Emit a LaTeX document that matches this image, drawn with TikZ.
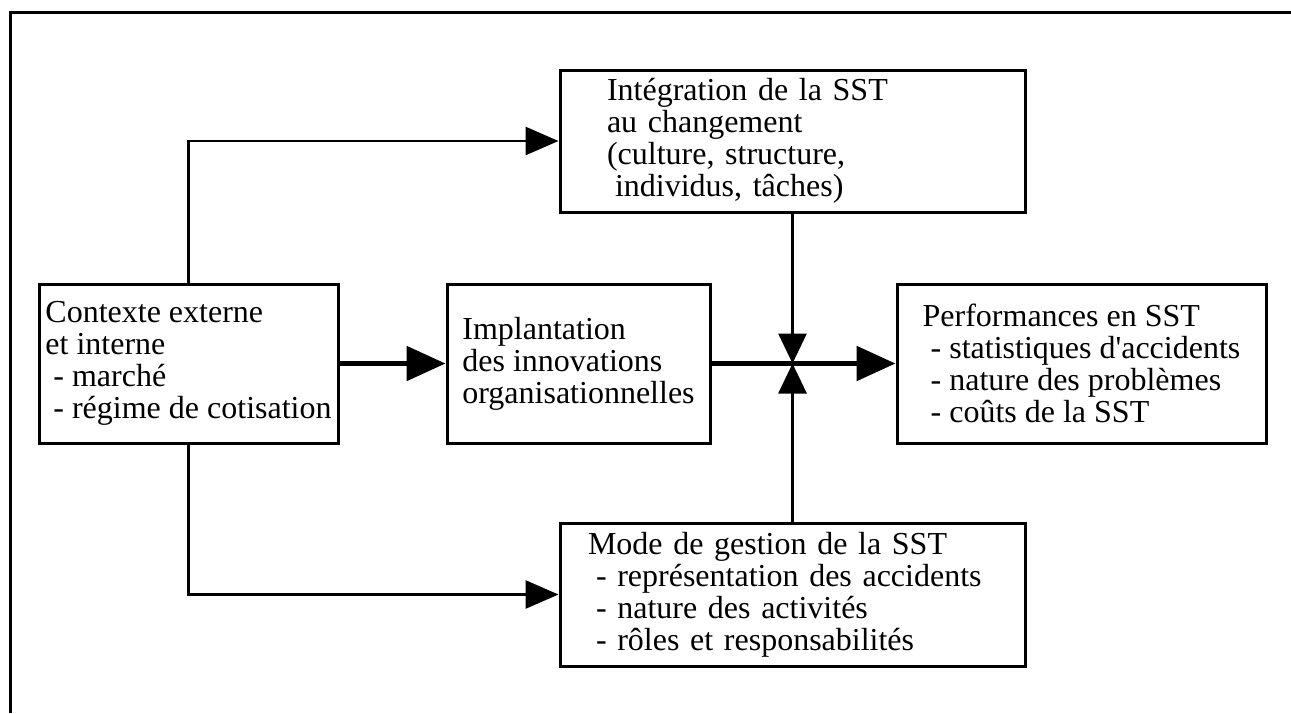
\documentclass[tikz,border=0pt]{standalone}
\usepackage{fontspec}
\setmainfont{Liberation Serif}
\usepackage{tikz}
\usetikzlibrary{arrows.meta}

\newcommand{\puce}{\hspace*{0.25em}- }

\begin{document}
\begin{tikzpicture}[x=0.5pt, y=-0.5pt,
  bloc/.style={draw, line width=1.5pt, align=left, inner sep=0pt,
    minimum height=79.5pt, font=\fontsize{16}{16}\selectfont},
  lien/.style={line width=1.4pt, -{Triangle[length=16.5pt, width=14pt]}},
  lienfort/.style={line width=2.75pt, -{Triangle[length=19.5pt, width=17pt]}},
  lienvert/.style={line width=1.4pt, -{Triangle[length=15pt, width=14pt]}}]
\useasboundingbox (0,0) rectangle (1291,713);
% frame
\draw[line width=1.5pt] (10,713) -- (10,12.5) -- (1291,12.5);
% boxes
\node[bloc, minimum width=149.5pt] (ctx) at (188.5,363.5)
  {Contexte externe\\ et interne\\ \puce marché\\ \puce régime de cotisation};
\node[bloc, minimum width=131.5pt] (impl) at (578.5,363.5)
  {Implantation\\ des innovations\\ organisationnelles};
\node[bloc, minimum width=184.5pt] (perf) at (1081.5,363.5)
  {Performances en SST\\ \puce statistiques d\textquotesingle accidents\\
   \puce nature des problèmes\\ \puce coûts de la SST};
\node[bloc, minimum width=232.5pt, minimum height=71pt, inner xsep=23.5pt,
  text width=185.5pt] (integ) at (792.5,141)
  {Intégration de la SST\\ au changement\\ (culture, structure,\\
   \hspace*{0.25em}individus, tâches)};
\node[bloc, minimum width=232.5pt, minimum height=71.5pt, inner xsep=14pt,
  text width=204.5pt] (mode) at (792.5,594.5)
  {Mode de gestion de la SST\\ \puce représentation des accidents\\
   \puce nature des activités\\ \puce rôles et responsabilités};
\coordinate (jonction) at (792.5,363.5);
% connectors
\draw[lienfort] (ctx) -- (impl);
\draw[lienfort] (impl) -- (perf);
\draw[lien] (ctx.north) |- (integ.west);
\draw[lien] (ctx.south) |- (mode.west);
\draw[lienvert] (integ) -- (jonction);
\draw[lienvert] (mode) -- (jonction);
\end{tikzpicture}
\end{document}
